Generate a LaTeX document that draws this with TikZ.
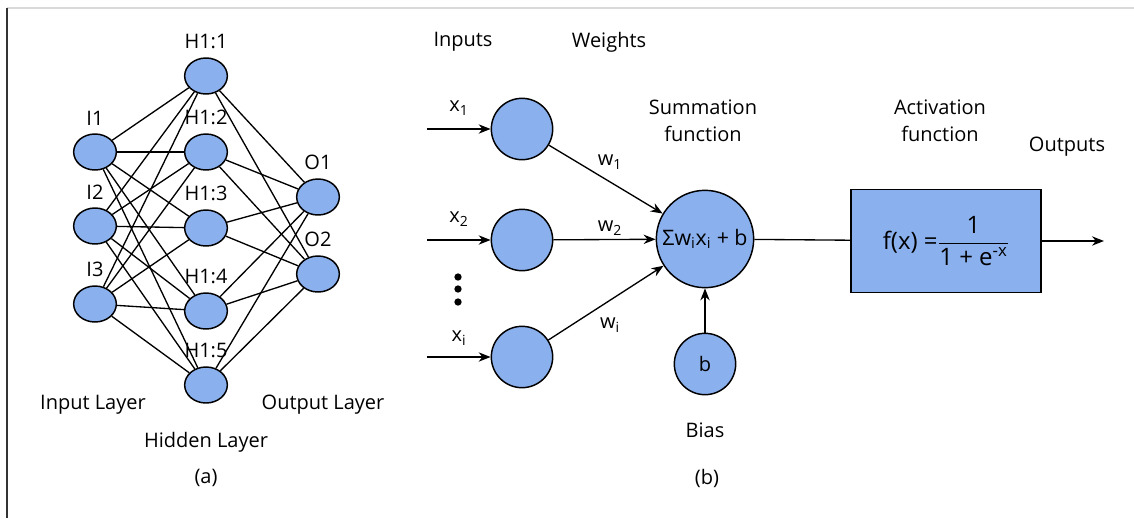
\documentclass[tikz,border=0pt]{standalone}
\usepackage{fontspec}
\setmainfont{Open Sans}
\usepackage{amsmath}
\usetikzlibrary{positioning,arrows.meta,shapes.geometric}
\definecolor{cellblue}{HTML}{8AB0ED}

\begin{document}
\begin{tikzpicture}[
  x=0.75pt, y=-0.75pt,
  font=\fontsize{15}{20}\selectfont,
  unit/.style={ellipse, draw=black, line width=1.1pt, fill=cellblue, minimum width=32pt, minimum height=27pt, inner sep=0pt},
  cell/.style={circle, draw=black, line width=1.1pt, fill=cellblue, minimum size=46pt, inner sep=0pt},
  lbl/.style={inner sep=0pt, align=center},
  dot/.style={circle, fill=black, minimum size=5.5pt, inner sep=0pt},
  wire/.style={line width=1pt},
  arr/.style={line width=1pt, -{Stealth[length=9pt, width=7pt]}}
]
\useasboundingbox (0,0) rectangle (1134,518);
% frame
\draw[black!15, line width=0.8pt] (7,8) -- (1134,8);
\draw[black!80, line width=1pt] (7,8) -- (7,518);

% (a) input layer
\node[unit] (i1) at (95,152) {};
\node[unit] (i2) at (95,226) {};
\node[unit] (i3) at (95,304) {};
\node[lbl, above=6pt of i1] {I1};
\node[lbl, above=6pt of i2] {I2};
\node[lbl, above=6pt of i3] {I3};

% hidden layer
\node[unit] (h1) at (206,76) {};
\node[unit] (h2) at (206,152) {};
\node[unit] (h3) at (206,228) {};
\node[unit] (h4) at (206,311) {};
\node[unit] (h5) at (206,385) {};
\node[lbl, above=6pt of h1] {H1:1};
\node[lbl, above=6pt of h2] {H1:2};
\node[lbl, above=6pt of h3] {H1:3};
\node[lbl, above=6pt of h4] {H1:4};
\node[lbl, above=6pt of h5] {H1:5};

% output layer
\node[unit] (o1) at (318,197) {};
\node[unit] (o2) at (318,274) {};
\node[lbl, above=6pt of o1] {O1};
\node[lbl, above=6pt of o2] {O2};

\foreach \i in {i1,i2,i3}
  \foreach \h in {h1,h2,h3,h4,h5}
    \draw[wire] (\i) -- (\h);
\foreach \h in {h1,h2,h3,h4,h5}
  \foreach \o in {o1,o2}
    \draw[wire] (\h) -- (\o);

\node[lbl] (inlayer) at (93,405) {Input Layer};
\node[lbl] (hidlayer) at (206,442) {Hidden Layer};
\node[lbl] (outlayer) at (323,405) {Output Layer};
\node[lbl] (capa) at (206,478) {(a)};

% (b) single neuron
\node[lbl] (inputs) at (463,42) {Inputs};
\node[lbl] (weights) at (609,42) {Weights};

\node[cell] (c1) at (522,129) {};
\node[cell] (c2) at (522,240) {};
\node[cell] (c3) at (522,357) {};
\coordinate (in1) at (427,129);
\coordinate (in2) at (427,240);
\coordinate (in3) at (427,357);
\foreach \k in {277,289,302}
  \node[dot] at (458,\k) {};

\node[lbl] (x1) at (459,108) {x\textsubscript{1}};
\node[lbl] (x2) at (459,219) {x\textsubscript{2}};
\node[lbl] (x3) at (459,338) {x\textsubscript{i}};
\node[lbl] (w1) at (610,162) {w\textsubscript{1}};
\node[lbl] (w2) at (610,228) {w\textsubscript{2}};
\node[lbl] (w3) at (610,325) {w\textsubscript{i}};

\node[cell, minimum size=73pt, font=\fontsize{16}{18}\selectfont] (sum) at (705,239) {Σw\textsubscript{i}x\textsubscript{i} + b};
\node[cell] (bias) at (705,364) {b};
\node[lbl] (sumlbl) at (703,121) {Summation\\function};
\node[lbl] (biaslbl) at (705,430) {Bias};
\node[lbl] (capb) at (707,478) {(b)};

\node[draw=black, line width=1.1pt, fill=cellblue, minimum width=142.5pt, minimum height=77pt, font=\fontsize{18}{20}\selectfont] (act) at (946,241)
  {f(x) =$\dfrac{\text{1}}{\text{1 + e\textsuperscript{-x}}}$};
\node[lbl] (actlbl) at (940,121) {Activation\\function};
\node[lbl] (outlbl) at (1067,147) {Outputs};
\coordinate (out) at (1104,241);

\foreach \k in {1,2,3}
  \draw[arr] (in\k) -- (c\k);
\foreach \k in {1,2,3}
  \draw[arr] (c\k) -- (sum);
\draw[arr] (bias) -- (sum);
\draw[wire] (sum) -- (act);
\draw[arr] (act) -- (out);
\end{tikzpicture}
\end{document}
